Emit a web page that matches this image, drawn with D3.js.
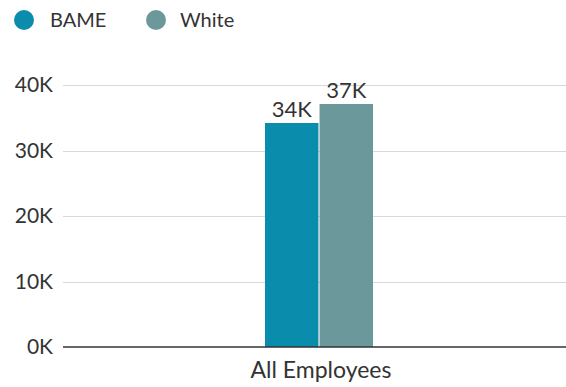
<!DOCTYPE html>
<html>
<head>
<meta charset="utf-8">
<script src="https://cdn.jsdelivr.net/npm/d3@7"></script>
<style>
  body { margin: 0; background: #fff; }
  svg { display: block; font-family: "Lato", "Noto Sans", sans-serif; }
</style>
</head>
<body>
<svg id="chart" width="566" height="387"></svg>
<script>
// Employees by ethnicity
const categories = ["All Employees"];
const seriesNames = ["BAME", "White"];
const seriesColors = ["#0a8cad", "#6b999b"];
const bameValues = [34200];
const whiteValues = [37100];
const tickValues = [0, 10000, 20000, 30000, 40000];
const tickLabels = ["0K", "10K", "20K", "30K", "40K"];
const barLabels = [["34K"], ["37K"]];

const svg = d3.select("#chart");
const seriesValues = [bameValues, whiteValues];

const gridLeft = 63, right = 566;
const y = d3.scaleLinear().domain([0, 40000]).range([347, 85]);
const x = d3.scaleBand().domain(categories).range([72, 566]).paddingInner(0).paddingOuter(0);
const xs = d3.scaleBand().domain(seriesNames).range([0, 108]).paddingInner(0.02);

// gridlines
svg.append("g").selectAll("line")
  .data(tickValues.filter(d => d > 0))
  .join("line")
  .attr("x1", gridLeft).attr("x2", right)
  .attr("y1", d => Math.round(y(d)) + 0.5).attr("y2", d => Math.round(y(d)) + 0.5)
  .attr("stroke", "#d9d9d9").attr("stroke-width", 1);

// y tick labels
svg.append("g").selectAll("text")
  .data(tickValues)
  .join("text")
  .attr("x", 53).attr("y", d => y(d))
  .attr("dy", "0.35em")
  .attr("text-anchor", "end")
  .attr("font-size", 21)
  .attr("fill", "#333")
  .text((d, i) => tickLabels[i]);

// bars
const groups = svg.append("g").selectAll("g")
  .data(categories)
  .join("g")
  .attr("transform", d => `translate(${x(d) + x.bandwidth() / 2 - 54},0)`);

seriesNames.forEach((s, si) => {
  groups.append("rect")
    .attr("x", xs(s))
    .attr("width", xs.bandwidth())
    .attr("y", (d, ci) => y(seriesValues[si][ci]))
    .attr("height", (d, ci) => y(0) - y(seriesValues[si][ci]))
    .attr("fill", seriesColors[si]);
  groups.append("text")
    .attr("x", xs(s) + xs.bandwidth() / 2)
    .attr("y", (d, ci) => y(seriesValues[si][ci]) - 6)
    .attr("text-anchor", "middle")
    .attr("font-size", 22)
    .attr("fill", "#333")
    .text((d, ci) => barLabels[si][ci]);
});

// baseline
svg.append("line")
  .attr("x1", gridLeft).attr("x2", right)
  .attr("y1", y(0)).attr("y2", y(0))
  .attr("stroke", "#333").attr("stroke-width", 1.5);

// x labels
svg.append("g").selectAll("text")
  .data(categories)
  .join("text")
  .attr("x", d => x(d) + x.bandwidth() / 2 + 2)
  .attr("y", 378)
  .attr("text-anchor", "middle")
  .attr("font-size", 23)
  .attr("fill", "#333")
  .text(d => d);

// legend
const legendX = [24, 156];
const legend = svg.append("g").selectAll("g")
  .data(seriesNames)
  .join("g")
  .attr("transform", (d, i) => `translate(${legendX[i]},20)`);
legend.append("circle").attr("r", 10).attr("fill", (d, i) => seriesColors[i]);
legend.append("text")
  .attr("x", (d, i) => i === 0 ? 26 : 24).attr("dy", "0.35em")
  .attr("font-size", 20)
  .attr("fill", "#333")
  .text(d => d);
</script>
</body>
</html>
